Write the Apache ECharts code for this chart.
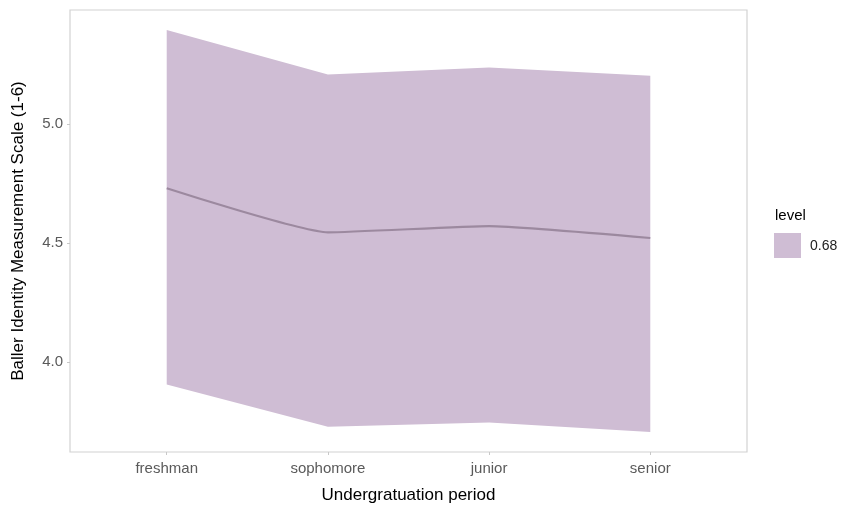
<!DOCTYPE html>
<html>
<head>
<meta charset="utf-8">
<script src="https://cdn.jsdelivr.net/npm/echarts@6/dist/echarts.min.js"></script>
<style>html,body{margin:0;padding:0;background:#fff;}#c{width:843px;height:506px;}</style>
</head>
<body>
<div id="c"></div>
<script>
const categories = ['freshman', 'sophomore', 'junior', 'senior'];
const meanValues = [4.730, 4.545, 4.571, 4.521];
const lowerValues = [3.906, 3.728, 3.746, 3.706];
const upperValues = [5.395, 5.208, 5.237, 5.203];
const yTicks = [4.0, 4.5, 5.0];
const levelName = '0.68';

const positions = categories.map((c, i) => i + 1);
const ribbonData = positions.map((x, i) => [x, lowerValues[i], upperValues[i]]);
const lineData = positions.map((x, i) => [x, meanValues[i]]);

const chart = echarts.init(document.getElementById('c'), null, {renderer: 'canvas'});
const ribbonColor = '#cfbdd4';
const font = 'Liberation Sans, Arial';
chart.setOption({
  animation: false,
  backgroundColor: '#ffffff',
  grid: {left: 70, top: 10, right: 96, bottom: 54, containLabel: false, outerBoundsMode: 'none', show: true, borderColor: '#d2d2d2', borderWidth: 1.2, backgroundColor: 'transparent'},
  xAxis: {
    type: 'value', min: 0.4, max: 4.6,
    splitLine: {show: false},
    axisLine: {show: false},
    axisTick: {show: true, customValues: positions, length: 3, lineStyle: {color: '#c8c8c8'}},
    axisLabel: {customValues: positions, formatter: v => categories[Math.round(v) - 1] || '', color: '#5a5a5a', fontSize: 15, fontFamily: font, margin: 9},
    name: 'Undergratuation period', nameLocation: 'middle', nameGap: 35,
    nameTextStyle: {color: '#000', fontSize: 17, fontFamily: font}
  },
  yAxis: {
    type: 'value', min: 3.622, max: 5.479,
    splitLine: {show: false},
    axisLine: {show: false},
    axisTick: {show: true, customValues: yTicks, length: 3, lineStyle: {color: '#c8c8c8'}},
    axisLabel: {customValues: yTicks, formatter: v => v.toFixed(1), color: '#5a5a5a', fontSize: 15, fontFamily: font, margin: 7},
    name: 'Baller Identity Measurement Scale (1-6)', nameLocation: 'middle', nameGap: 43,
    nameTextStyle: {color: '#000', fontSize: 17, fontFamily: font}
  },
  legend: {show: false},
  graphic: [
    {type: 'text', left: 775, top: 208, style: {text: 'level', fontSize: 15, fill: '#000', fontFamily: font}},
    {type: 'rect', shape: {x: 774, y: 233, width: 27, height: 25}, style: {fill: ribbonColor}},
    {type: 'text', left: 810, top: 239, style: {text: levelName, fontSize: 14, fill: '#222', fontFamily: font}}
  ],
  series: [
    {
      type: 'custom',
      data: ribbonData,
      silent: true,
      z: 1,
      renderItem: function (params, api) {
        if (params.dataIndex !== 0) return null;
        const top = ribbonData.map(d => api.coord([d[0], d[2]]));
        const bot = ribbonData.slice().reverse().map(d => api.coord([d[0], d[1]]));
        return {type: 'polygon', shape: {points: top.concat(bot)}, style: {fill: ribbonColor}};
      }
    },
    {
      type: 'line',
      data: lineData,
      z: 2,
      symbol: 'none',
      smooth: 0.15,
      lineStyle: {color: '#9c899f', width: 2.2}
    }
  ]
});
</script>
</body>
</html>
